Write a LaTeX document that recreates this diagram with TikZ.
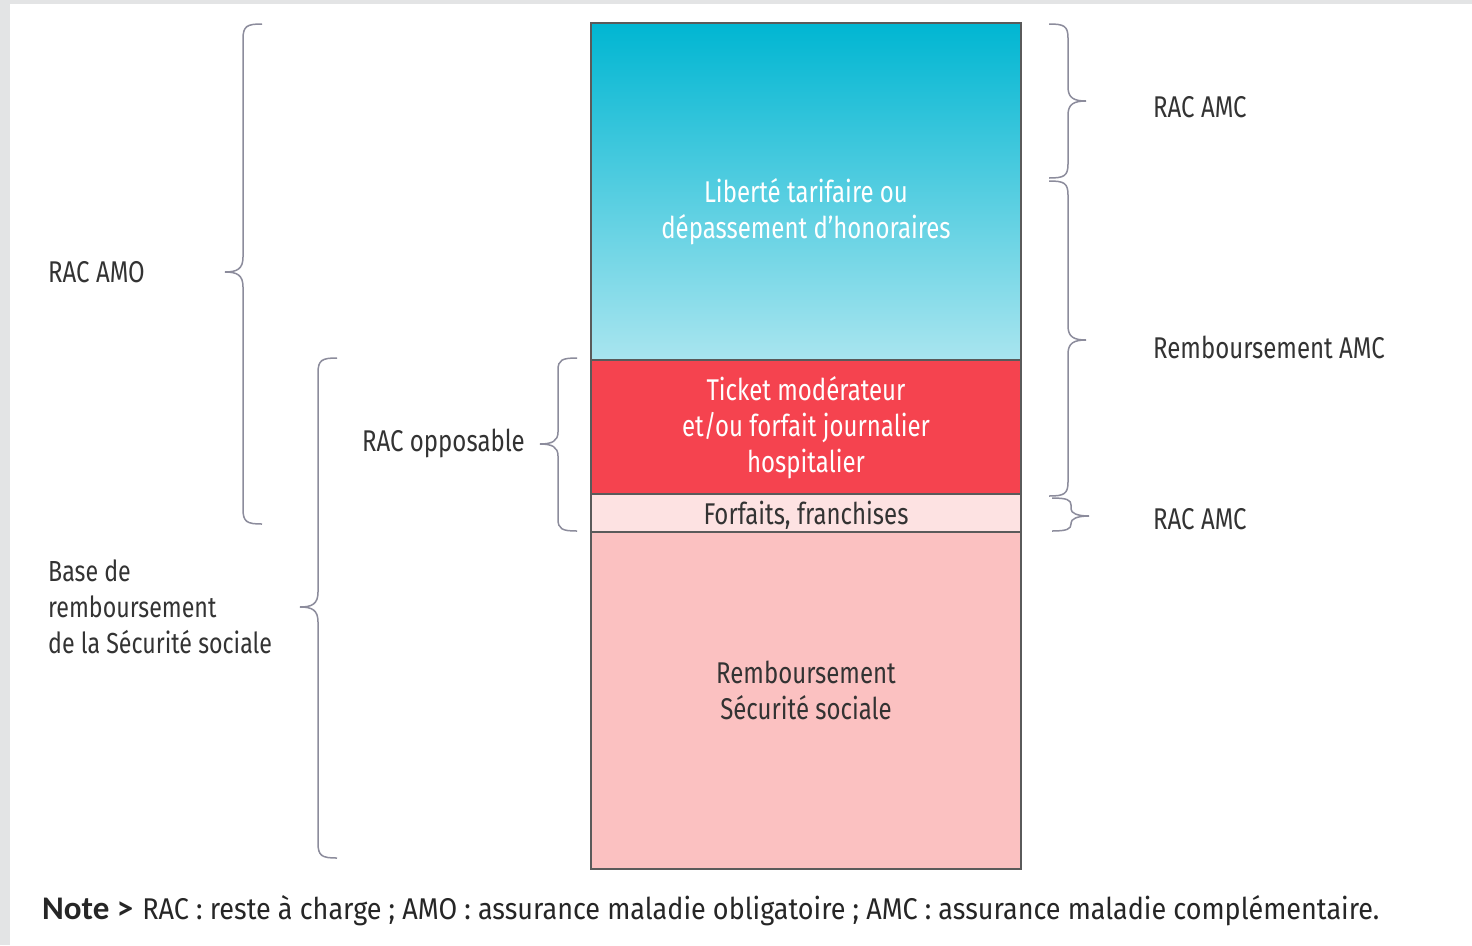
\documentclass[tikz,border=0pt]{standalone}
\usepackage{fontspec}
\setmainfont{Fira Sans}[FakeStretch=0.8]
\newfontfamily\notefont{Fira Sans}[FakeStretch=0.9]
\newfontfamily\notebold{Carlito}
\definecolor{framegray}{HTML}{E3E4E5}
\definecolor{topcyan}{HTML}{00B6D2}
\definecolor{botcyan}{HTML}{A9E5EF}
\definecolor{redbox}{HTML}{F5434F}
\definecolor{lightpink}{HTML}{FDE2E2}
\definecolor{pinkbox}{HTML}{FBC1C1}
\definecolor{edge}{HTML}{5A5A5A}
\definecolor{bracegray}{HTML}{8C8C9C}
\definecolor{txt}{HTML}{333333}
\tikzset{
  bar/.style={draw=edge, line width=1.6pt, minimum width=430pt, inner sep=0pt, outer sep=0pt},
  bartext/.style={font=\fontsize{30}{36}\selectfont, align=center, inner sep=0pt},
  lbl/.style={font=\fontsize{30}{36}\selectfont, text=txt, inner sep=0pt, align=left},
  bracestyle/.style={draw=bracegray, line width=1.5pt},
}
% #1 straight x, #2 direction (+1 tip right, -1 tip left), #3 top y, #4 bottom y, #5 tip y, #6 curl size
\newcommand\mybrc[6]{%
  \draw[bracestyle] ({#1-#2*19},#3) .. controls ({#1-#2*4},#3) and (#1,#3+2) .. (#1,#3+#6)
    -- (#1,#5-#6) .. controls (#1,#5-3) and ({#1+#2*6},#5) .. ({#1+#2*18},#5)
    .. controls ({#1+#2*6},#5) and (#1,#5+3) .. (#1,#5+#6)
    -- (#1,#4-#6) .. controls (#1,#4-2) and ({#1-#2*4},#4) .. ({#1-#2*19},#4);}
\begin{document}
\begin{tikzpicture}[x=1pt,y=-1pt]
\useasboundingbox (0,0) rectangle (1472,945);
\fill[framegray] (0,0) rectangle (1472,945);
\fill[white] (10,4) rectangle (1472,945);
% bars
\node[bar, minimum height=337pt, top color=topcyan, bottom color=botcyan] (lib) at (806,191.5) {};
\node[bar, minimum height=134pt, fill=redbox] (tick) at (806,427) {};
\node[bar, minimum height=38pt, fill=lightpink] (forf) at (806,513) {};
\node[bar, minimum height=337pt, fill=pinkbox] (rss) at (806,700.5) {};
\node[bartext, text=white] (libt) at (806,212) {Liberté tarifaire ou\\dépassement d'honoraires};
\node[bartext, text=white] (tickt) at (806,428) {Ticket modérateur\\et/ou forfait journalier\\hospitalier};
\node[bartext, text=txt] (forft) at (806,515) {Forfaits, franchises};
\node[bartext, text=txt] (rsst) at (806,690) {Remboursement\\Sécurité sociale};
% left braces
\mybrc{243}{-1}{24}{524}{272}{15}
\node[lbl, anchor=west] (amo) at (48,272) {RAC AMO};
\mybrc{318}{-1}{358}{858}{607}{15}
\node[lbl, anchor=west, font=\fontsize{29}{36}\selectfont] (base) at (48,607) {Base de\\remboursement\\de la Sécurité sociale};
\mybrc{558}{-1}{358}{531}{444}{12}
\node[lbl, anchor=east] (opp) at (525,443) {RAC opposable};
% right braces
\mybrc{1068}{1}{24}{178}{101}{14}
\node[lbl, anchor=west] (amc1) at (1153,107) {RAC AMC};
\mybrc{1068}{1}{181}{496}{340}{14}
\node[lbl, anchor=west] (ramc) at (1153,347) {Remboursement AMC};
\mybrc{1071}{1}{498}{531}{516}{7}
\node[lbl, anchor=west] (amc2) at (1153,519) {RAC AMC};
% note
\node[lbl, anchor=west, font=\notefont\fontsize{30}{36}\selectfont, text=black!85] (note) at (42,911) {{\notebold\bfseries\fontsize{33}{36}\selectfont Note >}\hspace{2pt} RAC : reste à charge ; AMO : assurance maladie obligatoire ; AMC : assurance maladie complémentaire.};
\end{tikzpicture}
\end{document}
